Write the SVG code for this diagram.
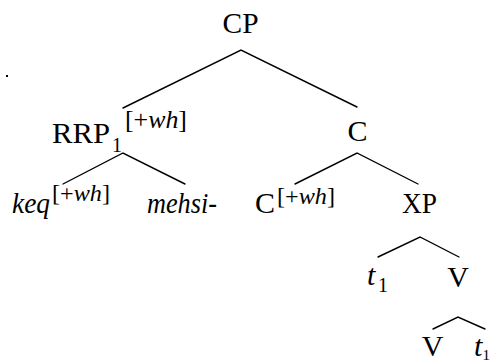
<svg xmlns="http://www.w3.org/2000/svg" width="491" height="362" viewBox="0 0 491 362">
<style>
text{font-family:'Liberation Serif','DejaVu Serif',serif;fill:#000}
.n{font-size:30px}
.it{font-style:italic}
.sup{font-size:23px}
.sub{font-size:20px}
.e{stroke:#000;stroke-width:1.4;fill:none;stroke-linecap:round}
</style>
<rect width="491" height="362" fill="#fff"/>
<g id="edges">
<path class="e" d="M123,108 L241,50 L357,107"/>
<path class="e" d="M63,184 L123,153 L185,184"/>
<path class="e" d="M295,184 L357,153 L418,184"/>
<path class="e" d="M378,257 L420,237 L459,257"/>
<path class="e" d="M433,329 L458,317 L485,329"/>
</g>
<g id="CP"><text class="n" x="240.5" y="33" text-anchor="middle" textLength="36" lengthAdjust="spacingAndGlyphs">CP</text></g>
<g id="RRP">
<text class="n" x="52" y="143" textLength="58" lengthAdjust="spacingAndGlyphs">RRP</text>
<text class="sub" x="112" y="152">1</text>
<text class="sup" x="125" y="128" style="font-size:25px" textLength="62" lengthAdjust="spacingAndGlyphs">[+<tspan class="it">wh</tspan>]</text>
</g>
<g id="Cbar"><text class="n" x="357.5" y="141" text-anchor="middle">C</text></g>
<g id="keq">
<text class="n it" x="12" y="213" textLength="38" lengthAdjust="spacingAndGlyphs">keq</text>
<text class="sup" x="52" y="201" textLength="58" lengthAdjust="spacingAndGlyphs">[+<tspan class="it">wh</tspan>]</text>
</g>
<g id="mehsi"><text class="n it" x="147" y="213" textLength="70" lengthAdjust="spacingAndGlyphs">mehsi-</text></g>
<g id="C">
<text class="n" x="255" y="213" textLength="20" lengthAdjust="spacingAndGlyphs">C</text>
<text class="sup" x="277" y="204" textLength="58" lengthAdjust="spacingAndGlyphs">[+<tspan class="it">wh</tspan>]</text>
</g>
<g id="XP"><text class="n" x="402" y="213" textLength="35" lengthAdjust="spacingAndGlyphs">XP</text></g>
<g id="t1"><text class="n it" x="367" y="285">t</text><text class="sub" x="378" y="292">1</text></g>
<g id="Vbar"><text class="n" x="458" y="287" text-anchor="middle">V</text></g>
<g id="V"><text class="n" x="432.5" y="356" text-anchor="middle">V</text></g>
<g id="t1b"><text class="n it" x="474" y="356">t</text><text class="sub" x="482.5" y="360" style="font-size:15px">1</text></g>
<rect x="6" y="75" width="2" height="2" fill="#000"/>
</svg>
